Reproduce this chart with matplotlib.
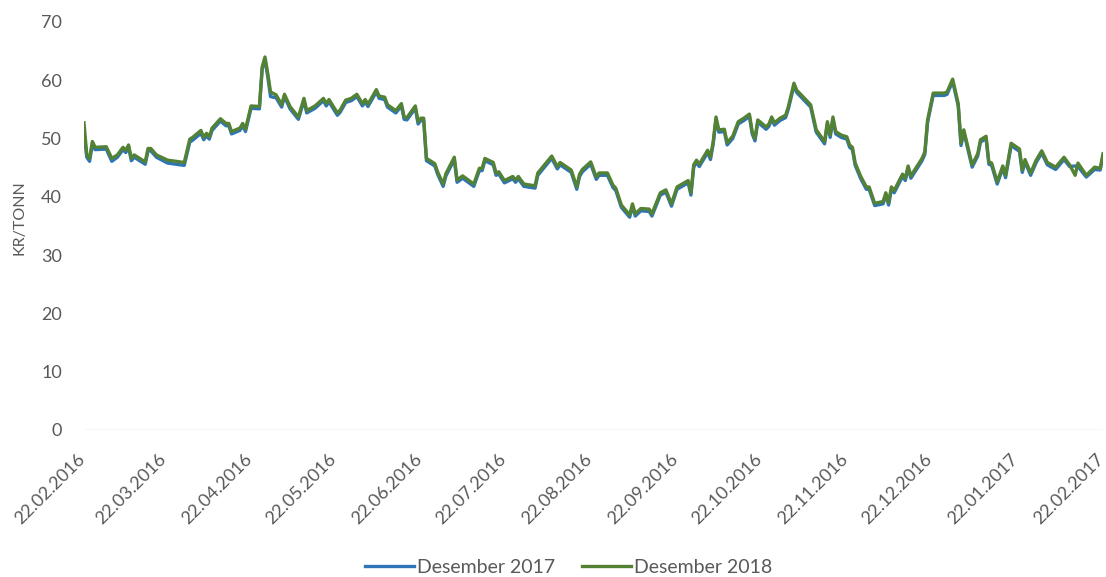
import matplotlib.pyplot as plt
import matplotlib.transforms as mtransforms
import pandas as pd

plt.rcParams['font.family'] = ['Lato', 'DejaVu Sans']

# Forward prices, KR/TONN. Days counted from 22.02.2016.
days = [
    0, 1, 2, 3, 4, 8, 10, 12, 14, 15, 16, 17, 18, 22, 23, 24, 26, 30, 36, 38,
    39, 42, 43, 44, 45, 46, 49, 51, 52, 53, 56, 57, 58, 60, 63, 64, 65, 66, 67, 69,
    71, 72, 74, 77, 79, 80, 83, 86, 87, 88, 91, 92, 94, 96, 98, 100, 101, 102, 105, 106,
    108, 109, 112, 114, 115, 116, 119, 120, 121, 122, 123, 126, 127, 129, 130, 133, 134, 136, 138, 140,
    142, 143, 144, 147, 148, 149, 151, 154, 155, 156, 158, 162, 163, 168, 170, 171, 175, 177, 178, 179,
    182, 184, 185, 188, 190, 191, 193, 196, 197, 198, 200, 203, 204, 207, 209, 211, 213, 217, 218, 219,
    220, 221, 224, 225, 226, 227, 228, 230, 231, 233, 235, 237, 239, 240, 241, 242, 245, 246, 247, 248,
    250, 252, 253, 255, 256, 260, 261, 263, 266, 267, 268, 269, 270, 272, 274, 275, 276, 277, 279, 281,
    282, 284, 287, 288, 289, 290, 291, 294, 295, 296, 297, 301, 302, 303, 304, 305, 307, 309, 310, 312,
    314, 315, 316, 319, 321, 322, 324, 325, 326, 328, 330, 331, 333, 336, 337, 338, 340, 342, 344, 346,
    349, 352, 354, 356, 357, 360, 363, 365, 366,
]

des_2017 = [
    51.2, 46.8, 46.1, 49.0, 48.1, 48.2, 46.1, 46.8, 48.1, 47.6, 48.5, 46.2, 46.8, 45.6, 47.9, 47.9, 46.8, 45.8, 45.4, 49.4,
    49.7, 50.9, 49.8, 50.5, 49.9, 51.4, 53.0, 52.2, 52.2, 50.8, 51.4, 52.2, 51.2, 55.2, 55.1, 61.9, 63.6, 60.6, 57.2, 57.0,
    55.4, 57.2, 55.1, 53.3, 56.5, 54.4, 55.2, 56.5, 55.6, 56.3, 54.0, 54.5, 56.2, 56.5, 57.2, 55.6, 56.3, 55.5, 58.0, 56.9,
    56.7, 55.4, 54.4, 55.6, 53.3, 53.2, 55.2, 52.5, 53.1, 53.1, 46.2, 45.3, 43.9, 41.8, 43.6, 46.4, 42.5, 43.2, 42.5, 41.8,
    44.5, 44.5, 46.2, 45.5, 43.7, 43.9, 42.4, 43.1, 42.5, 43.1, 41.8, 41.5, 43.7, 46.6, 44.8, 45.5, 44.2, 41.3, 43.5, 44.3,
    45.6, 43.0, 43.7, 43.7, 41.6, 41.1, 38.2, 36.5, 38.4, 36.7, 37.6, 37.5, 36.7, 40.3, 40.8, 38.4, 41.3, 42.4, 40.3, 45.1,
    45.9, 45.2, 47.6, 46.4, 49.1, 53.3, 51.1, 51.2, 48.9, 50.0, 52.5, 53.1, 53.8, 50.8, 49.6, 52.8, 51.6, 52.1, 53.3, 52.3,
    53.1, 53.6, 55.1, 59.1, 57.9, 55.9, 55.4, 51.1, 49.1, 52.5, 50.2, 53.3, 50.8, 50.2, 49.9, 48.5, 48.1, 45.4, 43.1, 41.3,
    41.3, 38.5, 38.8, 40.3, 38.6, 41.3, 40.7, 43.5, 42.8, 44.9, 43.2, 46.2, 47.3, 52.8, 55.1, 57.4, 57.4, 57.4, 57.6, 59.8,
    55.6, 48.8, 51.1, 45.1, 47.0, 49.4, 50.0, 45.6, 45.4, 42.2, 44.9, 43.3, 48.8, 47.8, 44.2, 46.0, 43.7, 45.9, 47.5, 45.5,
    44.7, 46.4, 45.2, 45.3, 45.2, 43.4, 44.7, 44.6, 47.0,
]

des_2018 = [
    52.7, 47.2, 46.6, 49.5, 48.5, 48.6, 46.6, 47.2, 48.5, 48.0, 48.9, 46.6, 47.2, 46.0, 48.3, 48.3, 47.2, 46.3, 45.9, 49.9,
    50.2, 51.4, 50.2, 50.9, 50.3, 51.8, 53.4, 52.6, 52.6, 51.2, 51.8, 52.6, 51.6, 55.6, 55.5, 62.3, 64.0, 61.2, 58.0, 57.5,
    55.8, 57.6, 55.5, 53.7, 56.9, 54.8, 55.6, 56.9, 56.0, 56.7, 54.4, 54.9, 56.6, 56.9, 57.6, 56.0, 56.7, 55.9, 58.4, 57.3,
    57.1, 55.8, 54.8, 56.0, 53.7, 53.6, 55.6, 52.9, 53.5, 53.5, 46.6, 45.7, 44.3, 42.2, 44.0, 46.8, 42.9, 43.6, 42.9, 42.2,
    44.9, 44.9, 46.6, 45.9, 44.1, 44.3, 42.8, 43.5, 42.9, 43.5, 42.2, 41.9, 44.1, 47.0, 45.2, 45.9, 44.6, 41.7, 43.9, 44.7,
    46.0, 43.4, 44.1, 44.1, 42.0, 41.5, 38.6, 36.9, 38.8, 37.1, 38.0, 37.9, 37.1, 40.7, 41.2, 38.8, 41.7, 42.8, 40.7, 45.5,
    46.3, 45.6, 48.0, 46.8, 49.5, 53.7, 51.5, 51.6, 49.3, 50.4, 52.9, 53.5, 54.2, 51.2, 50.0, 53.2, 52.0, 52.5, 53.7, 52.7,
    53.5, 54.0, 55.5, 59.5, 58.3, 56.3, 55.8, 51.5, 49.5, 52.9, 50.6, 53.7, 51.2, 50.6, 50.3, 48.9, 48.5, 45.8, 43.5, 41.7,
    41.7, 38.9, 39.2, 40.7, 39.0, 41.7, 41.1, 43.9, 43.2, 45.3, 43.6, 46.6, 47.7, 53.2, 55.5, 57.8, 57.8, 57.8, 58.0, 60.2,
    56.0, 49.2, 51.5, 45.5, 47.4, 49.8, 50.4, 46.0, 45.8, 42.6, 45.3, 43.7, 49.2, 48.2, 44.6, 46.4, 44.1, 46.3, 47.9, 45.9,
    45.1, 46.8, 45.5, 43.7, 45.8, 43.7, 45.1, 44.9, 47.4,
]

start = pd.Timestamp('2016-02-22')
end = pd.Timestamp('2017-02-22')
dates = start + pd.to_timedelta(days, unit='D')
# one tick on the 22nd of every month
tick_dates = pd.date_range('2016-02-01', '2017-02-01', freq='MS') + pd.Timedelta(days=21)

text_color = '#595959'

fig = plt.figure(figsize=(11.06, 5.77), dpi=100)
ax = fig.add_axes([84 / 1106, 1 - 430 / 577, (1103 - 84) / 1106, (430 - 22) / 577])

ax.plot(dates, des_2017, color='#2E75B6', lw=2.4, label='Desember 2017', solid_joinstyle='round')
ax.plot(dates, des_2018, color='#548235', lw=2.4, label='Desember 2018', solid_joinstyle='round')

ax.set_xlim(start, end)
ax.set_ylim(0, 70)
ax.set_yticks(range(0, 71, 10))
ax.set_xticks(tick_dates)
ax.set_xticklabels([d.strftime('%d.%m.%Y') for d in tick_dates])

for side in ['top', 'right', 'left', 'bottom']:
    ax.spines[side].set_visible(False)
ax.axhline(0, color='#D9D9D9', lw=1)

ax.tick_params(axis='both', length=0, labelcolor=text_color)
ax.tick_params(axis='y', pad=16, labelsize=13)
ax.tick_params(axis='x', pad=15, labelsize=13)
shift = mtransforms.ScaledTranslation(-7 / 100, 0, fig.dpi_scale_trans)
for lbl in ax.get_xticklabels():
    lbl.set_rotation(45)
    lbl.set_ha('right')
    lbl.set_rotation_mode('anchor')
    lbl.set_transform(lbl.get_transform() + shift)

ax.set_ylabel('KR/TONN', fontsize=11.5, color=text_color)
ax.yaxis.set_label_coords(-0.056, 0.52)

fig.legend(loc='center', bbox_to_anchor=(0.514, 0.017), ncol=2, frameon=False,
           fontsize=14, labelcolor=text_color, handlelength=2.5, handletextpad=0.15,
           columnspacing=1.4)

fig.savefig('out.png', dpi=100)
